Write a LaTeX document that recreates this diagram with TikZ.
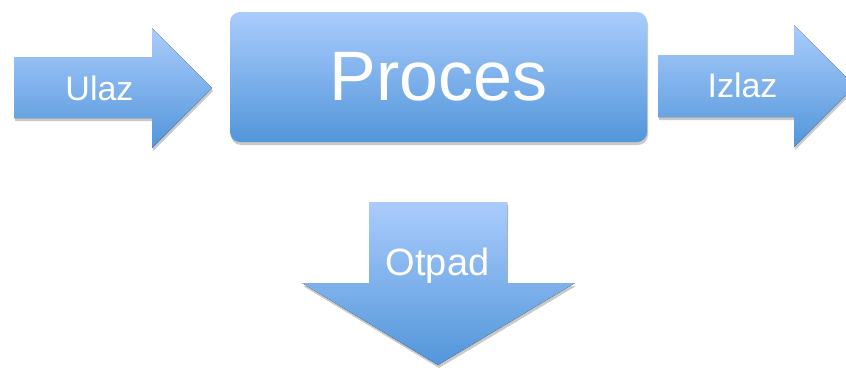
\documentclass[tikz,border=0pt]{standalone}
\usepackage{fontspec}
\setmainfont{Liberation Sans}
\usetikzlibrary{shadows}
\definecolor{lightblue}{RGB}{170,204,252}
\definecolor{darkblue}{RGB}{82,150,218}

\begin{document}
\begin{tikzpicture}[x=1pt,y=-1pt,
  blue fill/.style={top color=lightblue,bottom color=darkblue,
    drop shadow={shadow xshift=1pt,shadow yshift=-3pt,opacity=.3,fill=black!70}},
  main node/.style={blue fill,rounded corners=10pt,minimum width=417pt,
    minimum height=130pt,text=white,font=\fontsize{70}{80}\selectfont},
  arrow text/.style={anchor=base,text=white,font=\fontsize{34}{40}\selectfont}]

  \useasboundingbox (0,0) rectangle (846,367);
  \clip (0,0) rectangle (846,367);

  % the three arrows
  \fill[blue fill] (14,57) -- (152,57) -- (152,28) -- (212,88) -- (152,148)
    -- (152,118) -- (14,118) -- cycle;
  \fill[blue fill] (658,55) -- (794,55) -- (794,25) -- (855,86) -- (794,147)
    -- (794,117) -- (658,117) -- cycle;
  \fill[blue fill] (369,202) -- (507,202) -- (507,283) -- (575,283) -- (438,365)
    -- (302,283) -- (369,283) -- cycle;

  \node[main node] (proces) at (438.5,77) {Proces};

  \node[arrow text] (ulaz) at (99.5,100) {Ulaz};
  \node[arrow text] (izlaz) at (742.5,97) {Izlaz};
  \node[arrow text,font=\fontsize{38}{44}\selectfont] (otpad) at (437.5,275) {Otpad};

\end{tikzpicture}
\end{document}
